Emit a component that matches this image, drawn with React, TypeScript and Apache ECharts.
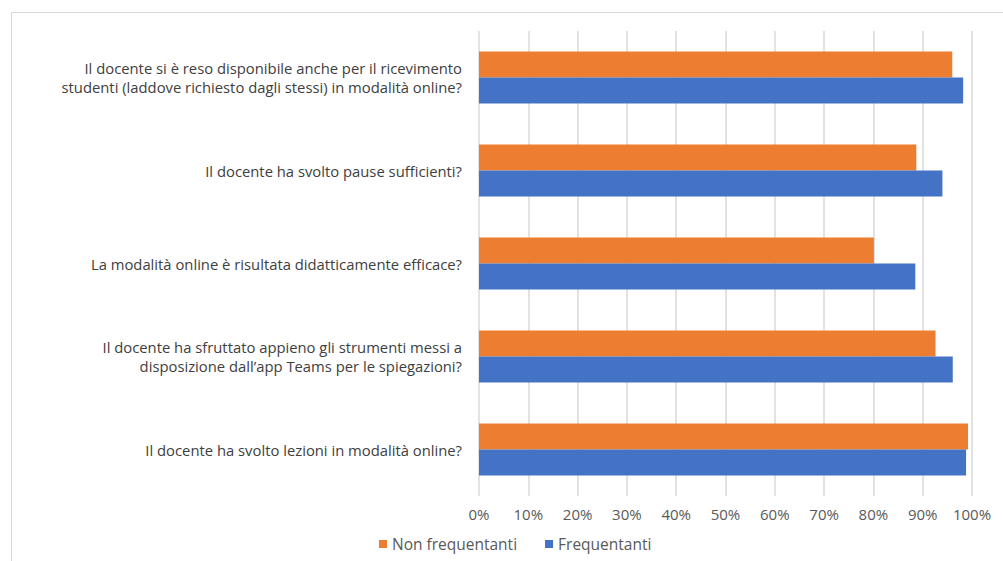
import React, { useEffect, useRef } from "react";
import * as echarts from "echarts";

const categories = [
  "Il docente ha svolto lezioni in modalità online?",
  "Il docente ha sfruttato appieno gli strumenti messi a\ndisposizione dall’app Teams per le spiegazioni?",
  "La modalità online è risultata didatticamente efficace?",
  "Il docente ha svolto pause sufficienti?",
  "Il docente si è reso disponibile anche per il ricevimento\nstudenti (laddove richiesto dagli stessi) in modalità online?",
];
const nonFrequentanti = [0.992, 0.926, 0.801, 0.887, 0.96];
const frequentanti = [0.988, 0.961, 0.885, 0.94, 0.982];
const xTicks = [0, 0.1, 0.2, 0.3, 0.4, 0.5, 0.6, 0.7, 0.8, 0.9, 1];

const FONT = "'Open Sans', 'Noto Sans', sans-serif";

export default function App() {
  const ref = useRef<HTMLDivElement>(null);
  useEffect(() => {
    if (!ref.current) return;
    const chart = echarts.init(ref.current, undefined, { renderer: "svg" });
    chart.setOption({
      animation: false,
      backgroundColor: "#ffffff",
      textStyle: { fontFamily: FONT },
      graphic: [
        {
          type: "rect",
          shape: { x: 11.5, y: 12.5, width: 1100, height: 700 },
          style: { fill: "none", stroke: "#d9d9d9", lineWidth: 1 },
          silent: true,
          z: -10,
        },
      ],
      grid: { left: 479, right: 31, top: 31, bottom: 65, containLabel: false },
      legend: {
        data: ["Non frequentanti", "Frequentanti"],
        bottom: 4,
        left: 374,
        icon: "rect",
        itemWidth: 8,
        itemHeight: 8,
        itemGap: 28,
        textStyle: { color: "#595959", fontSize: 15.5, fontFamily: FONT },
      },
      xAxis: {
        type: "value",
        min: 0,
        max: 1,
        interval: 0.1,
        axisLine: { show: false },
        axisTick: { show: false },
        splitLine: { lineStyle: { color: "#d9d9d9", width: 1.5 } },
        axisLabel: {
          color: "#595959",
          fontSize: 15,
          margin: 10,
          fontFamily: FONT,
          formatter: (v: number) => {
            const t = xTicks.find((x) => Math.abs(x - v) < 1e-9);
            return Math.round((t ?? v) * 100) + "%";
          },
        },
      },
      yAxis: {
        type: "category",
        data: categories,
        axisLine: { show: false },
        axisTick: { show: false },
        axisLabel: {
          color: "#404040",
          fontSize: 14.8,
          lineHeight: 19.5,
          margin: 17,
          fontFamily: FONT,
          align: "right",
        },
      },
      series: [
        {
          name: "Non frequentanti",
          type: "bar",
          data: nonFrequentanti,
          barWidth: 26,
          barGap: "0%",
          itemStyle: { color: "#ED7D31" },
        },
        {
          name: "Frequentanti",
          type: "bar",
          data: frequentanti,
          barWidth: 26,
          barGap: "0%",
          itemStyle: { color: "#4472C4" },
        },
      ],
    });
    return () => chart.dispose();
  }, []);
  return (
    <div
      ref={ref}
      style={{ position: "fixed", left: 0, top: 0, width: 1003, height: 561, background: "#fff" }}
    />
  );
}
